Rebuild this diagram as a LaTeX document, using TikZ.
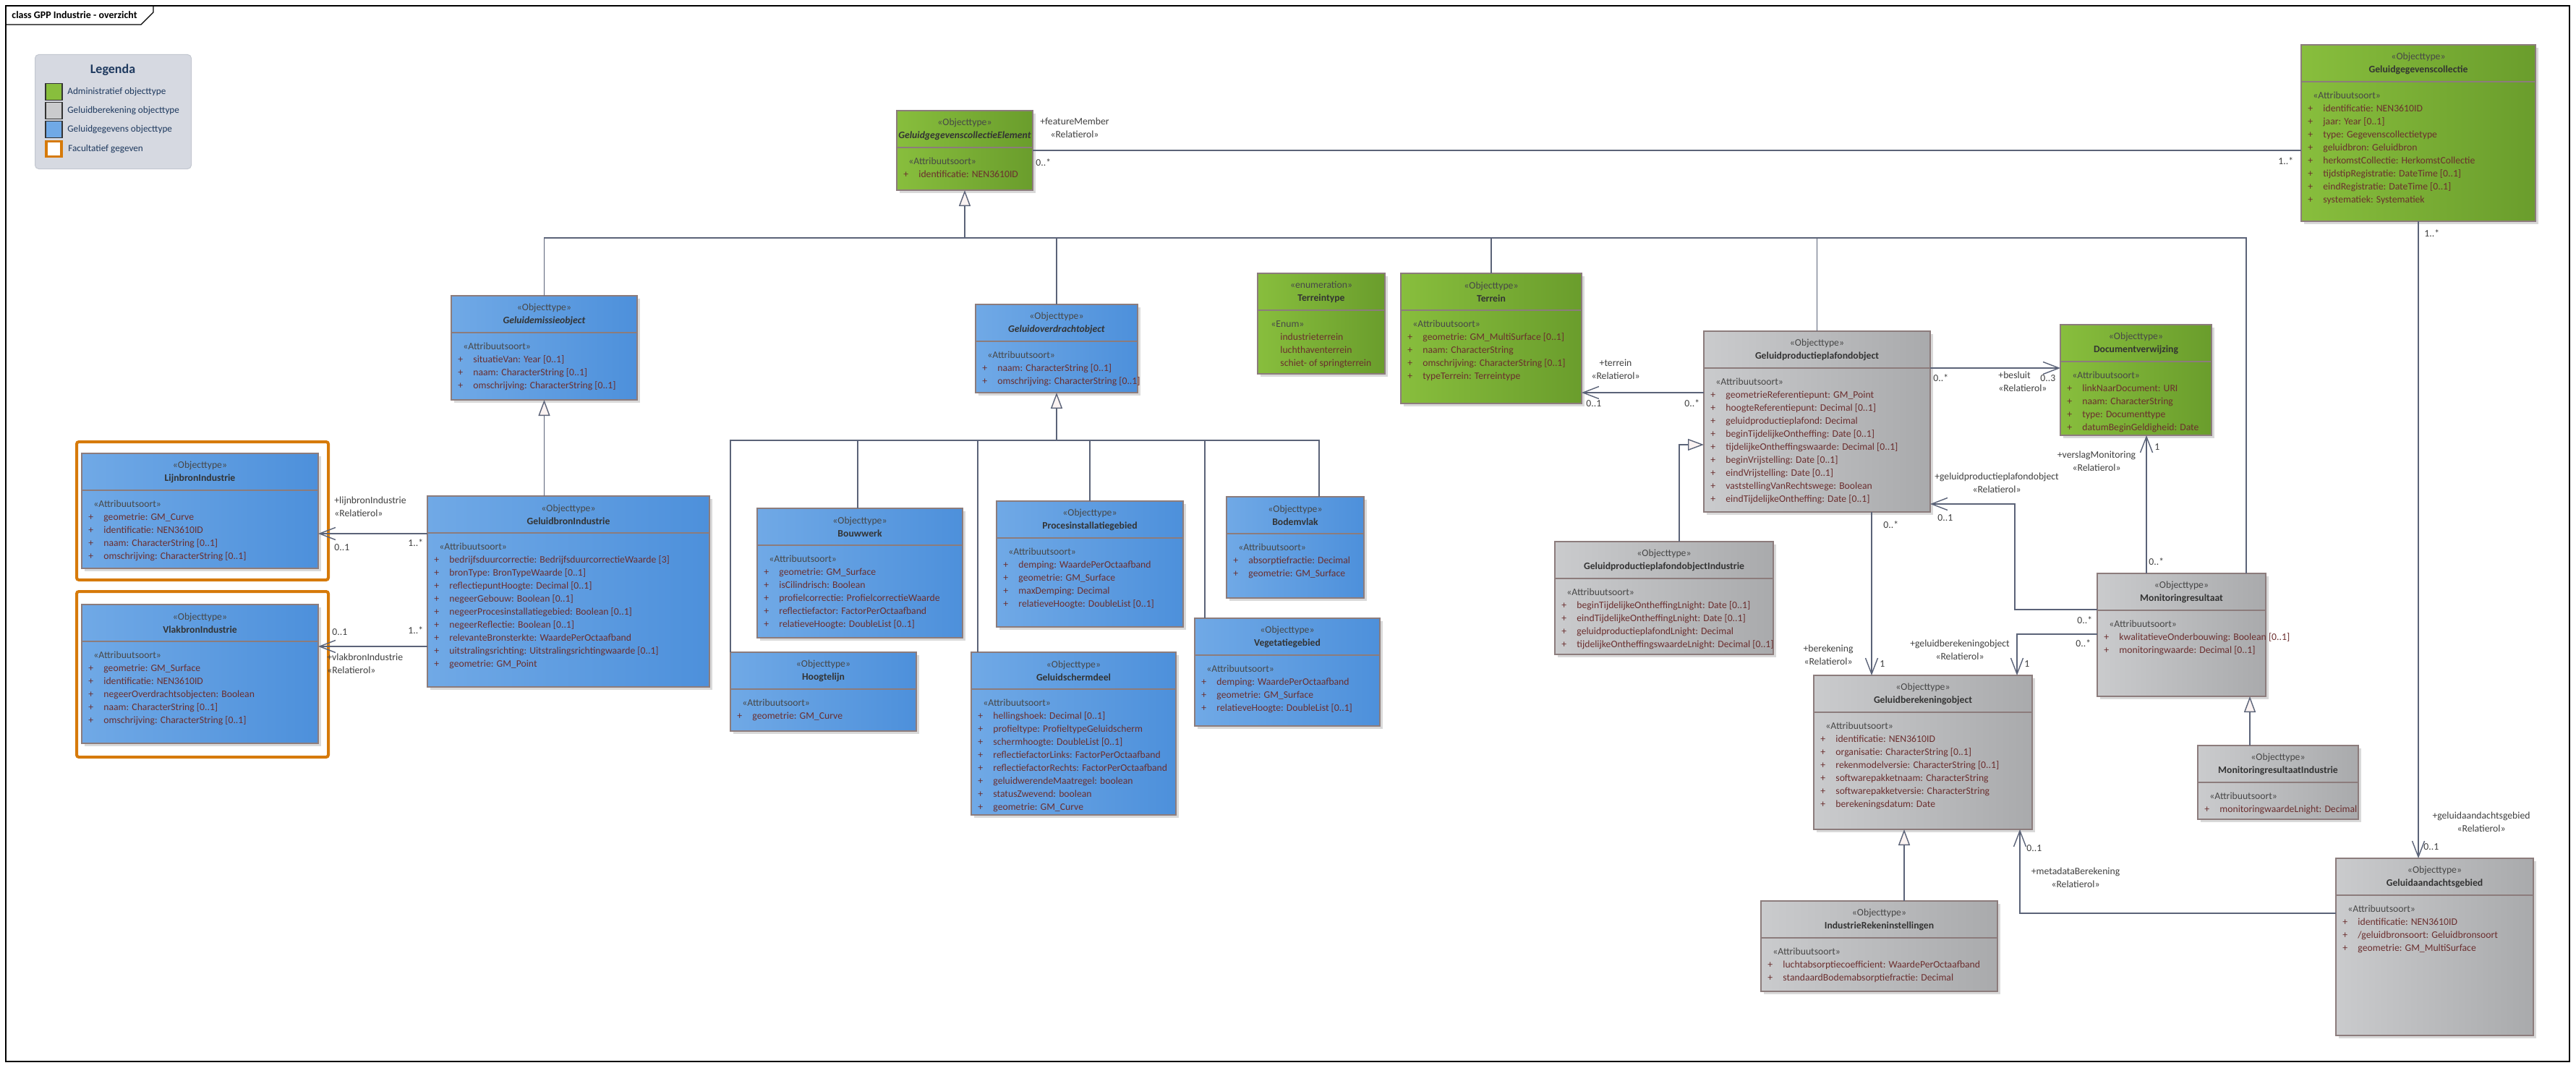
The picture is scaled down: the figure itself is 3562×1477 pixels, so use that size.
\documentclass[tikz,border=0pt]{standalone}
\usepackage{fontspec}
\setmainfont{Carlito}
\usepackage{tikz}
\usetikzlibrary{arrows.meta}
\usetikzlibrary{shadows}

\definecolor{grnL}{HTML}{88BE3D}
\definecolor{grnR}{HTML}{6A9D2C}
\definecolor{bluL}{HTML}{70A9E6}
\definecolor{bluR}{HTML}{4D90DB}
\definecolor{gryL}{HTML}{CACBCD}
\definecolor{gryR}{HTML}{A9AAAC}
\definecolor{boxline}{HTML}{8C7C7C}
\definecolor{connline}{HTML}{5B6378}
\definecolor{attrcol}{HTML}{6B2E2E}
\definecolor{stereocol}{HTML}{474747}
\definecolor{namecol}{HTML}{333333}
\definecolor{labelcol}{HTML}{3F3F3F}
\definecolor{genfill}{HTML}{FBF3F2}
\definecolor{legfill}{HTML}{D6D9E1}
\definecolor{legline}{HTML}{C3C7D0}
\definecolor{legtext}{HTML}{1F3A5F}
\definecolor{optline}{HTML}{D67A0A}

\newcommand{\att}[1]{\makebox[10.5pt][l]{+}#1}
\newcommand{\attsoort}{\strut\hspace*{3.5pt}{\color{stereocol}«Attribuutsoort»}}
\newcommand{\umlclass}[8][gry]{%
  \node[umlbox, left color=#1L, right color=#1R, minimum width=#4*0.5pt, minimum height=#5*0.5pt] (#2) at (#3) {};
  \draw[divider] ([yshift=-25.5pt]#2.north west) -- ([yshift=-25.5pt]#2.north east);
  \node[header] (#2-head) at ([yshift=-12.75pt]#2.north) {{\color{stereocol}#6}\\\textbf{#7}};
  \node[attrs] (#2-attrs) at ([xshift=4.5pt, yshift=-30.7pt]#2.north west) {#8};
}

\begin{document}
\begin{tikzpicture}[x=0.5pt, y=-0.5pt,
    umlfont/.style={font=\fontsize{6.85}{9}\selectfont},
    umlbox/.style={draw=boxline, line width=1pt, anchor=north west, inner sep=0pt, outer sep=0pt,
        drop shadow={shadow xshift=2pt, shadow yshift=-2pt, fill=black!15, opacity=1}},
    divider/.style={draw=boxline, line width=1pt},
    header/.style={umlfont, align=center, text=namecol, inner sep=0pt},
    attrs/.style={umlfont, anchor=north west, align=left, text=attrcol, inner sep=0pt},
    lbl/.style={umlfont, text=labelcol, inner sep=0pt},
    role/.style={lbl, align=center},
    conn/.style={draw=connline, line width=0.7pt},
    assoc/.style={conn, -{Straight Barb[length=11pt, width=8.5pt]}},
    gen/.style={conn, -{Triangle[length=11pt, width=8pt, fill=genfill]}},
    optframe/.style={draw=optline, line width=2pt, fill=white, anchor=north west, inner sep=0pt,
        minimum width=174pt, rounded corners=1.5pt},
    swatch/.style={draw=black!80, line width=0.6pt, minimum size=11.5pt, inner sep=0pt},
    legitem/.style={font=\fontsize{6.6}{8}\selectfont, text=legtext, anchor=west, inner sep=0pt}
  ]
  \useasboundingbox (0,0) rectangle (3562,1477);
  \fill[white] (0,0) rectangle (3562,1477);

  \draw[line width=0.6pt] (8,8) rectangle (3553,1468);
  \draw[line width=0.6pt] (8,34) -- (195,34) -- (212,17) -- (212,8);
  \node[font=\fontsize{7}{9}\selectfont\bfseries, anchor=west, inner sep=0pt] (title) at (16,21) {class GPP Industrie - overzicht};

  \node[fill=legfill, draw=legline, line width=0.5pt, rounded corners=2.5pt, anchor=north west,
        minimum width=108pt, minimum height=79pt] (legend) at (48,75) {};
  \node[font=\fontsize{9}{11}\selectfont\bfseries, text=legtext] (legtitle) at (156,97) {Legenda};
  \node[swatch, fill=grnL] (sw1) at (74.5,127) {};
  \node[swatch, fill=gryL] (sw2) at (74.5,153) {};
  \node[swatch, fill=bluL] (sw3) at (74.5,179) {};
  \node[swatch, fill=white, draw=optline, line width=1.6pt, minimum size=10.5pt] (sw4) at (74.5,206) {};
  \node[legitem] (leg1) at (93,127) {Administratief objecttype};
  \node[legitem] (leg2) at (93,153) {Geluidberekening objecttype};
  \node[legitem] (leg3) at (93,179) {Geluidgegevens objecttype};
  \node[legitem] (leg4) at (94,206) {Facultatief gegeven};

  \node[optframe, minimum height=95.5pt] (lijnframe) at (104,609) {};
  \node[optframe, minimum height=114.5pt] (vlakframe) at (104,816) {};

  \umlclass[grn]{gc}{3182,62}{324}{244}{«Objecttype»}{Geluidgegevenscollectie}{\attsoort\\
    \att{identificatie: NEN3610ID}\\\att{jaar: Year [0..1]}\\\att{type: Gegevenscollectietype}\\
    \att{geluidbron: Geluidbron}\\\att{herkomstCollectie: HerkomstCollectie}\\
    \att{tijdstipRegistratie: DateTime [0..1]}\\\att{eindRegistratie: DateTime [0..1]}\\
    \att{systematiek: Systematiek}}
  \umlclass[grn]{gce}{1240,153}{188}{110}{«Objecttype»}{\textit{GeluidgegevenscollectieElement}}{\attsoort\\
    \att{identificatie: NEN3610ID}}
  \umlclass[grn]{terreintype}{1739,378}{176}{139}{«enumeration»}{Terreintype}{\strut\hspace*{4.5pt}{\color{stereocol}«Enum»}\\
    \hspace*{11pt}industrieterrein\\\hspace*{11pt}luchthaventerrein\\\hspace*{11pt}schiet- of springterrein}
  \umlclass[grn]{terrein}{1937,378}{250}{180}{«Objecttype»}{Terrein}{\attsoort\\
    \att{geometrie: GM\_MultiSurface [0..1]}\\\att{naam: CharacterString}\\
    \att{omschrijving: CharacterString [0..1]}\\\att{typeTerrein: Terreintype}}
  \umlclass[grn]{dv}{2849,449}{209}{153}{«Objecttype»}{Documentverwijzing}{\attsoort\\
    \att{linkNaarDocument: URI}\\\att{naam: CharacterString}\\\att{type: Documenttype}\\
    \att{datumBeginGeldigheid: Date}}

  \umlclass[blu]{gem}{624,409}{257}{144}{«Objecttype»}{\textit{Geluidemissieobject}}{\attsoort\\
    \att{situatieVan: Year [0..1]}\\\att{naam: CharacterString [0..1]}\\\att{omschrijving: CharacterString [0..1]}}
  \umlclass[blu]{gov}{1349,421}{224}{122}{«Objecttype»}{\textit{Geluidoverdrachtobject}}{\attsoort\\
    \att{naam: CharacterString [0..1]}\\\att{omschrijving: CharacterString [0..1]}}
  \umlclass[blu]{lijn}{113,627}{327}{159}{«Objecttype»}{LijnbronIndustrie}{\attsoort\\
    \att{geometrie: GM\_Curve}\\\att{identificatie: NEN3610ID}\\\att{naam: CharacterString [0..1]}\\
    \att{omschrijving: CharacterString [0..1]}}
  \umlclass[blu]{vlak}{113,836}{327}{192}{«Objecttype»}{VlakbronIndustrie}{\attsoort\\
    \att{geometrie: GM\_Surface}\\\att{identificatie: NEN3610ID}\\\att{negeerOverdrachtsobjecten: Boolean}\\
    \att{naam: CharacterString [0..1]}\\\att{omschrijving: CharacterString [0..1]}}
  \umlclass[blu]{gbi}{591,686}{390}{264}{«Objecttype»}{GeluidbronIndustrie}{\attsoort\\
    \att{bedrijfsduurcorrectie: BedrijfsduurcorrectieWaarde [3]}\\\att{bronType: BronTypeWaarde [0..1]}\\
    \att{reflectiepuntHoogte: Decimal [0..1]}\\\att{negeerGebouw: Boolean [0..1]}\\
    \att{negeerProcesinstallatiegebied: Boolean [0..1]}\\\att{negeerReflectie: Boolean [0..1]}\\
    \att{relevanteBronsterkte: WaardePerOctaafband}\\\att{uitstralingsrichting: Uitstralingsrichtingwaarde [0..1]}\\
    \att{geometrie: GM\_Point}}
  \umlclass[blu]{bouw}{1047,703}{284}{179}{«Objecttype»}{Bouwwerk}{\attsoort\\
    \att{geometrie: GM\_Surface}\\\att{isCilindrisch: Boolean}\\\att{profielcorrectie: ProfielcorrectieWaarde}\\
    \att{reflectiefactor: FactorPerOctaafband}\\\att{relatieveHoogte: DoubleList [0..1]}}
  \umlclass[blu]{proces}{1378,693}{258}{174}{«Objecttype»}{Procesinstallatiegebied}{\attsoort\\
    \att{demping: WaardePerOctaafband}\\\att{geometrie: GM\_Surface}\\\att{maxDemping: Decimal}\\
    \att{relatieveHoogte: DoubleList [0..1]}}
  \umlclass[blu]{bodem}{1696,687}{190}{140}{«Objecttype»}{Bodemvlak}{\attsoort\\
    \att{absorptiefractie: Decimal}\\\att{geometrie: GM\_Surface}}
  \umlclass[blu]{veg}{1652,855}{256}{149}{«Objecttype»}{Vegetatiegebied}{\attsoort\\
    \att{demping: WaardePerOctaafband}\\\att{geometrie: GM\_Surface}\\\att{relatieveHoogte: DoubleList [0..1]}}
  \umlclass[blu]{hoog}{1010,902}{257}{109}{«Objecttype»}{Hoogtelijn}{\attsoort\\
    \att{geometrie: GM\_Curve}}
  \umlclass[blu]{scherm}{1343,902}{283}{225}{«Objecttype»}{Geluidschermdeel}{\attsoort\\
    \att{hellingshoek: Decimal [0..1]}\\\att{profieltype: ProfieltypeGeluidscherm}\\
    \att{schermhoogte: DoubleList [0..1]}\\\att{reflectiefactorLinks: FactorPerOctaafband}\\
    \att{reflectiefactorRechts: FactorPerOctaafband}\\\att{geluidwerendeMaatregel: boolean}\\
    \att{statusZwevend: boolean}\\\att{geometrie: GM\_Curve}}

  \umlclass{gppo}{2356,458}{313}{250}{«Objecttype»}{Geluidproductieplafondobject}{\attsoort\\
    \att{geometrieReferentiepunt: GM\_Point}\\\att{hoogteReferentiepunt: Decimal [0..1]}\\
    \att{geluidproductieplafond: Decimal}\\\att{beginTijdelijkeOntheffing: Date [0..1]}\\
    \att{tijdelijkeOntheffingswaarde: Decimal [0..1]}\\\att{beginVrijstelling: Date [0..1]}\\
    \att{eindVrijstelling: Date [0..1]}\\\att{vaststellingVanRechtswege: Boolean}\\
    \att{eindTijdelijkeOntheffing: Date [0..1]}}
  \umlclass{gppoi}{2150,749}{302}{156}{«Objecttype»}{GeluidproductieplafondobjectIndustrie}{\attsoort\\
    \att{beginTijdelijkeOntheffingLnight: Date [0..1]}\\\att{eindTijdelijkeOntheffingLnight: Date [0..1]}\\
    \att{geluidproductieplafondLnight: Decimal}\\\att{tijdelijkeOntheffingswaardeLnight: Decimal [0..1]}}
  \umlclass{mr}{2900,793}{233}{170}{«Objecttype»}{Monitoringresultaat}{\attsoort\\
    \att{kwalitatieveOnderbouwing: Boolean [0..1]}\\\att{monitoringwaarde: Decimal [0..1]}}
  \umlclass{mri}{3039,1031}{222}{102}{«Objecttype»}{MonitoringresultaatIndustrie}{\attsoort\\
    \att{monitoringwaardeLnight: Decimal}}
  \umlclass{gbo}{2508,934}{302}{213}{«Objecttype»}{Geluidberekeningobject}{\attsoort\\
    \att{identificatie: NEN3610ID}\\\att{organisatie: CharacterString [0..1]}\\
    \att{rekenmodelversie: CharacterString [0..1]}\\\att{softwarepakketnaam: CharacterString}\\
    \att{softwarepakketversie: CharacterString}\\\att{berekeningsdatum: Date}}
  \umlclass{iri}{2435,1246}{327}{125}{«Objecttype»}{IndustrieRekeninstellingen}{\attsoort\\
    \att{luchtabsorptiecoefficient: WaardePerOctaafband}\\\att{standaardBodemabsorptiefractie: Decimal}}
  \umlclass{gag}{3230,1187}{273}{245}{«Objecttype»}{Geluidaandachtsgebied}{\attsoort\\
    \att{identificatie: NEN3610ID}\\\att{/geluidbronsoort: Geluidbronsoort}\\\att{geometrie: GM\_MultiSurface}}

  \coordinate (gcebar) at (1334,329);
  \draw[gen] (gcebar) -- (gce.south);
  \draw[conn] (gem.north) |- (gcebar);
  \draw[conn] (gov.north) |- (gcebar);
  \draw[conn] (terrein.north) |- (gcebar);
  \draw[conn] (gppo.north) |- (gcebar);
  \draw[conn] (3106,0 |- mr.north) |- (gcebar);

  \coordinate (govbar) at (1461,609);
  \draw[gen] (govbar) -- (gov.south);
  \draw[conn] (hoog.north west) |- (govbar);
  \draw[conn] (1186,0 |- bouw.north) |- (govbar);
  \draw[conn] (1352,0 |- scherm.north) |- (govbar);
  \draw[conn] (proces.north) |- (govbar);
  \draw[conn] (1666,0 |- veg.north) |- (govbar);
  \draw[conn] (1824,0 |- bodem.north) |- (govbar);

  \draw[gen] (gbi.north -| gem.south) -- (gem.south);
  \draw[gen] (2322,0 |- gppoi.north) |- (gppo.west |- 0,615);
  \draw[gen] (3111,0 |- mri.north) -- (3111,0 |- mr.south);
  \draw[gen] (2633,0 |- iri.north) -- (2633,0 |- gbo.south);

  \draw[conn] (gce.east) -- (gce.east -| gc.west);
  \draw[assoc] (gc.south) -- (gc.south |- gag.north);
  \draw[assoc] (gppo.west |- 0,543) -- (terrein.east |- 0,543);
  \draw[assoc] (gppo.east |- 0,509) -- (dv.west |- 0,509);
  \draw[assoc] (2968,0 |- mr.north) -- (2968,0 |- dv.south);
  \draw[assoc] (mr.west |- 0,843) -| (2786,697) -- (gppo.east |- 0,697);
  \draw[assoc] (2588,0 |- gppo.south) -- (2588,0 |- gbo.north);
  \draw[assoc] (mr.west |- 0,877) -| (2789,0 |- gbo.north);
  \draw[assoc] (gag.west |- 0,1263) -| (2793,0 |- gbo.south);
  \draw[assoc] (gbi.west |- 0,738) -- (lijn.east |- 0,738);
  \draw[assoc] (gbi.west |- 0,894) -- (vlak.east |- 0,894);

  \node[role] (fm-role) at (1486,177) {+featureMember\\«Relatierol»};
  \node[lbl, anchor=west] (fm-m1) at (1432,225) {0..*};
  \node[lbl, anchor=west] (fm-m2) at (3150,223) {1..*};
  \node[lbl, anchor=west] (aag-m1) at (3352,323) {1..*};
  \node[role] (aag-role) at (3431,1137) {+geluidaandachtsgebied\\«Relatierol»};
  \node[lbl, anchor=west] (aag-m2) at (3351,1171) {0..1};
  \node[role] (ter-role) at (2234,511) {+terrein\\«Relatierol»};
  \node[lbl, anchor=west] (ter-m1) at (2193,558) {0..1};
  \node[lbl, anchor=west] (ter-m2) at (2329,558) {0..*};
  \node[lbl, anchor=west] (bes-m1) at (2673,523) {0..*};
  \node[role, align=left, anchor=north west] (bes-role) at (2763,514) {+besluit\\«Relatierol»};
  \node[lbl, anchor=west] (bes-m2) at (2821,523) {0..3};
  \node[role] (vm-role) at (2899,638) {+verslagMonitoring\\«Relatierol»};
  \node[lbl, anchor=west] (vm-m1) at (2979,618) {1};
  \node[lbl, anchor=west] (vm-m2) at (2971,777) {0..*};
  \node[role] (gpp-role) at (2761,668) {+geluidproductieplafondobject\\«Relatierol»};
  \node[lbl, anchor=west] (gpp-m1) at (2679,716) {0..1};
  \node[lbl, anchor=west] (gpp-m2) at (2872,858) {0..*};
  \node[role] (ber-role) at (2528,906) {+berekening\\«Relatierol»};
  \node[lbl, anchor=west] (ber-m1) at (2599,918) {1};
  \node[lbl, anchor=west] (ber-m2) at (2604,726) {0..*};
  \node[role] (gbo-role) at (2710,899) {+geluidberekeningobject\\«Relatierol»};
  \node[lbl, anchor=west] (gbo-m1) at (2799,918) {1};
  \node[lbl, anchor=west] (gbo-m2) at (2870,890) {0..*};
  \node[role] (mdb-role) at (2870,1214) {+metadataBerekening\\«Relatierol»};
  \node[lbl, anchor=west] (mdb-m1) at (2802,1173) {0..1};
  \node[role, align=left, anchor=north west] (lijn-role) at (462,687) {+lijnbronIndustrie\\«Relatierol»};
  \node[lbl, anchor=west] (lijn-m1) at (462,757) {0..1};
  \node[lbl, anchor=west] (lijn-m2) at (564,751) {1..*};
  \node[role, align=left, anchor=north west] (vlak-role) at (452,904) {+vlakbronIndustrie\\«Relatierol»};
  \node[lbl, anchor=west] (vlak-m1) at (459,874) {0..1};
  \node[lbl, anchor=west] (vlak-m2) at (564,872) {1..*};
\end{tikzpicture}
\end{document}
